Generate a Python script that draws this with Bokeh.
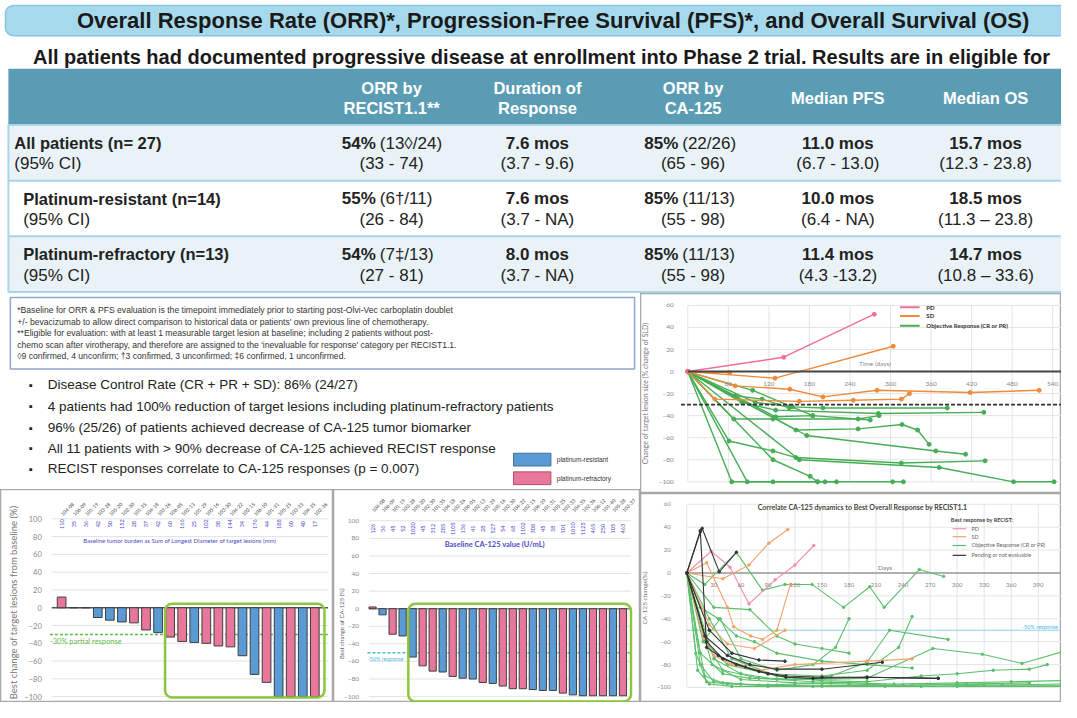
import math
from bokeh.plotting import figure
from bokeh.models import LinearAxis, FixedTicker, BoxAnnotation, Range1d
from bokeh.layouts import column, row
from bokeh.embed import file_html
from bokeh.resources import INLINE
from bokeh.core.properties import value

# ---------------- data ----------------
title_text = "Overall Response Rate (ORR)*, Progression-Free Survival (PFS)*, and Overall Survival (OS)"
subtitle_text = "All patients had documented progressive disease at enrollment into Phase 2 trial.  Results are in eligible for"
col_headers = [["ORR by", "RECIST1.1**"], ["Duration of", "Response"], ["ORR by", "CA-125"], ["Median PFS"], ["Median OS"]]
row_labels = ["All patients (n= 27)", "Platinum-resistant (n=14)", "Platinum-refractory (n=13)"]
ci_label = "(95% CI)"
orr_recist_pct = ["54%", "55%", "54%"]
orr_recist_n = ["(13\u25ca/24)", "(6\u2020/11)", "(7\u2021/13)"]
orr_recist_ci = ["(33 - 74)", "(26 - 84)", "(27 - 81)"]
dor = ["7.6 mos", "7.6 mos", "8.0 mos"]
dor_ci = ["(3.7 - 9.6)", "(3.7 - NA)", "(3.7 - NA)"]
orr_ca_pct = ["85%", "85%", "85%"]
orr_ca_n = ["(22/26)", "(11/13)", "(11/13)"]
orr_ca_ci = ["(65 - 96)", "(55 - 98)", "(55 - 98)"]
pfs = ["11.0 mos", "10.0 mos", "11.4 mos"]
pfs_ci = ["(6.7 - 13.0)", "(6.4 - NA)", "(4.3 -13.2)"]
os_med = ["15.7 mos", "18.5 mos", "14.7 mos"]
os_ci = ["(12.3 - 23.8)", "(11.3 \u2013 23.8)", "(10.8 \u2013 33.6)"]

footnotes = [
    "*Baseline for ORR & PFS evaluation is the timepoint immediately prior to starting post-Olvi-Vec carboplatin doublet",
    "  +/- bevacizumab to allow direct comparison to historical data or patients' own previous line of chemotherapy.",
    "**Eligible for evaluation: with at least 1 measurable target lesion at baseline; including 2 patients without post-",
    "  chemo scan after virotherapy, and therefore are assigned to the 'inevaluable for response' category per RECIST1.1.",
    "\u25ca9 confirmed, 4 unconfirm; \u20203 confirmed, 3 unconfirmed; \u20216 confirmed, 1 unconfirmed.",
]
bullets = [
    "Disease Control Rate (CR + PR + SD): 86% (24/27)",
    "4 patients had 100% reduction of target lesions including platinum-refractory patients",
    "96% (25/26) of patients achieved decrease of CA-125 tumor biomarker",
    "All 11 patients with > 90% decrease of CA-125 achieved RECIST response",
    "RECIST responses correlate to CA-125 responses (p = 0.007)",
]
group_names = ["platinum-resistant", "platinum-refractory"]

# waterfall 1: best change of target lesions (%)
wf1_ids = ["104-08", "106-09", "101-19", "103-28", "105-20", "102-30", "101-35", "104-18", "103-26", "106-05", "102-13",
           "101-29", "105-16", "103-30", "104-22", "102-15", "106-10", "101-31", "105-25", "103-33", "104-35", "102-36"]
wf1_baseline = ["110", "35", "36", "42", "50", "152", "28", "37", "42", "60", "166",
                "25", "102", "38", "144", "34", "176", "44", "188", "60", "40", "17"]
wf1_vals = [12, 0, 0, -11, -14, -16, -17, -25, -28, -33, -38, -39, -40, -43, -44, -54, -75, -84, -100, -100, -100, -100]
wf1_group = ["F", "R", "F", "R", "R", "R", "F", "F", "R", "F", "F", "R", "F", "F", "F", "R", "R", "F", "R", "F", "R", "F"]

# waterfall 2: best change of CA-125 (%)
wf2_ids = ["104-08", "106-09", "101-19", "103-28", "105-20", "102-30", "101-35", "104-18", "103-26", "106-05", "102-13",
           "101-29", "105-16", "103-30", "104-22", "102-15", "106-10", "101-31", "105-25", "103-33", "104-35", "102-36",
           "106-12", "101-40", "105-28", "103-37"]
wf2_baseline = ["126", "36", "45", "52", "1020", "45", "312", "285", "1105", "136", "41", "28", "527",
                "54", "68", "1102", "308", "45", "38", "101", "1010", "1125", "465", "250", "105", "463"]
wf2_vals = [2, -7, -29, -31, -55, -65, -71, -72, -77, -79, -80, -84, -85, -88, -91, -91, -92, -93, -93, -96, -98,
            -99, -99, -99, -99, -99]
wf2_group = ["F", "R", "F", "R", "R", "F", "F", "R", "F", "R", "R", "F", "R", "F", "F", "F", "R", "R", "R", "F", "R",
             "R", "F", "F", "R", "F"]

# spider 1: change of target lesion size (% change of SLD) vs time (days)
rec_pd_days = [[0, 142, 276]]
rec_pd_vals = [[0, 13, 52]]
rec_sd_days = [[0, 129, 304], [0, 62], [0, 70, 151, 200, 280, 418, 520], [0, 40, 165, 245, 316, 328]]
rec_sd_vals = [[0, -6, 23], [0, -1], [0, -13, -16, -23, -17, -19, -17], [0, -25, -27, -26, -25, -20]]
rec_or_days = [[0, 65, 126, 220], [0, 88, 192, 203, 303, 319], [0, 61, 126, 160, 316, 440],
               [0, 126, 181, 192], [0, 165, 372, 482, 542], [0, 176, 367, 411],
               [0, 160, 252, 317, 340, 357], [0, 68, 126, 252, 283], [0, 100, 155, 200, 384],
               [0, 80, 130, 282, 438], [0, 130, 185, 270], [0, 70, 110, 150], [0, 96, 185]]
rec_or_vals = [[0, -100, -100, -100], [0, -100, -100, -100, -100, -100], [0, -63, -72, -78, -83, -81],
               [0, -80, -95, -100], [0, -80, -87, -100, -100], [0, -58, -72, -75],
               [0, -53, -52, -48, -53, -66], [0, -43, -43, -43, -40], [0, -28, -32, -33, -33],
               [0, -28, -35, -38, -37], [0, -41, -40, -44], [0, -22, -25, -33], [0, -17, -40]]

# spider 2: CA-125 change (%) vs days
ca_pd_days = [[0, 27, 48, 69, 98, 120, 141]]
ca_pd_vals = [[0, 19, 5, -27, -6, 7, 24]]
ca_sd_days = [[0, 22, 45, 52, 71, 84, 100, 115], [0, 40, 69, 91, 112], [0, 18, 30, 50, 80, 120, 200, 250],
              [0, 25, 45, 75, 109]]
ca_sd_vals = [[0, 9, -30, -47, -55, -58, -50, -10], [0, -5, 7, 26, 38], [0, -55, -72, -80, -85, -80, -77, -75],
              [0, -45, -62, -66, -50]]
ca_or_days = [[0, 20, 55, 84, 109, 139, 174, 203, 219, 258, 285], [0, 20, 45, 90, 150, 200, 235, 250],
              [0, 15, 40, 70, 120, 160, 200, 225, 290], [0, 15, 30, 60, 100, 150, 200, 250, 300, 350, 416],
              [0, 20, 40, 80, 140, 200, 273, 328, 372, 416], [0, 25, 50, 100, 150, 200, 260, 300, 340, 380, 400],
              [0, 15, 35, 55, 75, 100, 150, 200, 250], [0, 30, 70, 100, 120, 150, 180],
              [0, 12, 25, 50, 90, 150, 220, 300, 416], [0, 10, 20, 40, 80, 120, 160, 200],
              [0, 18, 37, 60, 100, 140, 165, 180], [0, 30, 60, 100, 140, 180, 230, 300, 360, 416],
              [0, 10, 22, 45, 90, 140, 200, 260, 330, 416], [0, 14, 28, 60, 120, 180, 240, 310, 380]]
ca_or_vals = [[0, -10, 18, -15, -10, -10, -30, -12, -30, 3, -3], [0, -60, -80, -88, -90, -85, -65, -38],
              [0, -70, -88, -92, -93, -90, -78, -50, -58], [0, -80, -95, -97, -98, -98, -98, -98, -97, -98, -98],
              [0, -60, -85, -92, -93, -92, -66, -71, -79, -69], [0, -40, -75, -90, -94, -95, -90, -88, -85, -84, -80],
              [0, -30, -40, -55, -60, -70, -77, -80, -83], [0, -30, -32, -55, -62, -66, -70],
              [0, -85, -97, -99, -99, -99, -99, -99, -99], [0, -50, -90, -96, -98, -97, -96, -95],
              [0, -60, -40, -75, -85, -80, -65, -40], [0, -75, -88, -93, -95, -96, -97, -96, -95, -94],
              [0, -70, -95, -97, -98, -99, -98, -99, -98, -97], [0, -40, -80, -93, -96, -97, -98, -97, -96]]
ca_ne_days = [[0, 15, 17, 36, 55], [0, 15, 22, 35, 55, 80, 110, 150, 200, 279], [0, 22, 40, 65, 90, 110, 140, 200, 279],
              [0, 20, 45, 70, 100, 150, 217], [0, 25, 50, 80, 109]]
ca_ne_vals = [[0, 37, 39, 1, 18], [0, 36, -65, -72, -80, -86, -90, -91, -91, -92], [0, -60, -75, -82, -88, -91, -92, -91, -92],
              [0, -55, -72, -80, -84, -84, -78], [0, -50, -70, -76, -77]]

pct_ticks = [-100, -80, -60, -40, -20, 0, 20, 40, 60, 80, 100]
spider_pct_ticks = [-100, -80, -60, -40, -20, 0, 20, 40, 60]
rec_day_ticks = [60, 120, 180, 240, 300, 360, 420, 480, 540]
ca_day_ticks = [30, 60, 90, 120, 150, 180, 210, 240, 270, 300, 330, 360, 390]

# ---------------- style ----------------
FONT = "Liberation Sans"
CF = "Lato"
BLUE = "#5B9BD5"
PINK = "#E8779B"
GCOL = {"R": BLUE, "F": PINK}
LBLUE = "#4B4BC8"


def mkfig(w, h, xr, yr):
    p = figure(width=w, height=h, x_range=Range1d(*xr), y_range=Range1d(*yr), output_backend="svg",
               toolbar_location=None, tools="", x_axis_location=None, y_axis_location=None, min_border=0)
    p.grid.visible = False
    p.outline_line_color = None
    p.background_fill_color = "white"
    p.border_fill_color = "white"
    return p


def txt(p, x, y, s, size, color="#222", bold=False, align="left", baseline="middle", font=FONT, angle=0.0):
    p.text(x=[x], y=[y], text=[s], text_font=value(font), text_font_size=f"{size}px", text_color=color,
           text_font_style="bold" if bold else "normal", text_align=align, text_baseline=baseline, angle=angle)


def hseg(p, x0, x1, y, color, width=1.0, dash="solid"):
    p.segment(x0=[x0], x1=[x1], y0=[y], y1=[y], line_color=color, line_width=width, line_dash=dash)


# ---------------- top: title + table ----------------
top = mkfig(1061, 293, (0, 1077), (-300, 0))
top.add_layout(BoxAnnotation(left=5, right=1110, top=-5, bottom=-36, fill_color="#A6D9EC", fill_alpha=1,
                             line_color="#86C6DE", line_alpha=1, line_width=1.5, border_radius=8, level="underlay"))
txt(top, 561, -20.5, title_text, 22, color="#1a1a1a", bold=True, align="center")
txt(top, 33, -58, subtitle_text, 20, color="#1a1a1a", bold=True)
top.quad(left=[8], right=[1077], top=[-70], bottom=[-127], fill_color="#5B9CB5", line_color=None)
bands = [(-128, -184, "#E9F2F7"), (-185, -241, "#FFFFFF"), (-242, -298, "#E9F2F7")]
top.quad(left=[8] * 3, right=[1077] * 3, top=[b[0] for b in bands], bottom=[b[1] for b in bands],
         fill_color=[b[2] for b in bands], line_color=None)
for yy in (-127.5, -184.5, -241.5, -298.5):
    hseg(top, 8, 1077, yy, "#A9D5E6", 2)
top.segment(x0=[8], x1=[8], y0=[-127], y1=[-299], line_color="#A9D5E6", line_width=2)

col_c = [397, 545, 703, 850, 1000]
for c, hdr in zip(col_c, col_headers):
    if len(hdr) == 2:
        txt(top, c, -90, hdr[0], 16.5, color="white", bold=True, align="center")
        txt(top, c, -110.5, hdr[1], 16.5, color="white", bold=True, align="center")
    else:
        txt(top, c, -100, hdr[0], 16.5, color="white", bold=True, align="center")

row_y = [-146, -203, -260]
row_y2 = [-167, -224, -282]
label_x = [14, 23, 23]
FS = 17
for i in range(3):
    y1 = row_y[i]
    y2 = row_y2[i]
    txt(top, label_x[i], y1, row_labels[i], 16.5, bold=True)
    txt(top, label_x[i], y2, ci_label, FS)
    txt(top, 381, y1, orr_recist_pct[i], FS, bold=True, align="right")
    txt(top, 385, y1, orr_recist_n[i], FS)
    txt(top, col_c[0], y2, orr_recist_ci[i], FS, align="center")
    txt(top, col_c[1], y1, dor[i], FS, bold=True, align="center")
    txt(top, col_c[1], y2, dor_ci[i], FS, align="center")
    txt(top, 688, y1, orr_ca_pct[i], FS, bold=True, align="right")
    txt(top, 692, y1, orr_ca_n[i], FS)
    txt(top, col_c[2], y2, orr_ca_ci[i], FS, align="center")
    txt(top, col_c[3], y1, pfs[i], FS, bold=True, align="center")
    txt(top, col_c[3], y2, pfs_ci[i], FS, align="center")
    txt(top, col_c[4], y1, os_med[i], FS, bold=True, align="center")
    txt(top, col_c[4], y2, os_ci[i], FS, align="center")

# ---------------- middle-left: footnotes + bullets ----------------
mid = mkfig(640, 196, (0, 650), (-500, -300))
mid.quad(left=[10], right=[644], top=[-304], bottom=[-377], fill_color="white", line_color="#8FA8C8", line_width=1.5)
for k, line in enumerate(footnotes):
    txt(mid, 17, -317 - 11.75 * k, line, 8.6, color="#333")
bul_y = [-393, -415, -437, -458, -479]
for s, yy in zip(bullets, bul_y):
    txt(mid, 31, yy, "\u25aa", 11, color="#222", align="center")
    txt(mid, 48, yy, s, 13.5, color="#222")
mid.quad(left=[521, 521], right=[559, 559], top=[-463, -482], bottom=[-476, -495],
         fill_color=[BLUE, PINK], line_color=["#41719C", "#B0506E"], line_width=1)
txt(mid, 565, -469.5, group_names[0], 6.5, color="#333")
txt(mid, 565, -488.5, group_names[1], 6.5, color="#333")


# ---------------- waterfalls ----------------
def waterfall(width, xr, yr, ids, base, vals, groups, ax_x, grid_x1, id_y, base_y, caption, cap_x, cap_y,
              cap_size, cap_bold, thr, thr_col, thr_txt, thr_txt_y, thr_size, box, zero_col, tick_size):
    p = mkfig(width, 213, xr, yr)
    p.outline_line_color = "#A8A8A8"
    p.outline_line_width = 1.5
    idx = list(range(len(vals)))
    for t in pct_ticks:
        if t != 0:
            hseg(p, ax_x, grid_x1, t, "#E2E2E2", 1)
    hseg(p, ax_x, grid_x1, 0, zero_col, 1.5)
    hseg(p, ax_x - 0.15, grid_x1, thr, thr_col, 1.5, "3 2")
    txt(p, ax_x - 0.15, thr_txt_y, thr_txt, thr_size, color=thr_col, font=CF)
    p.vbar(x=idx, top=vals, bottom=0, width=0.72, fill_color=[GCOL[g] for g in groups],
           line_color="#3F3F3F", line_width=1)
    p.add_layout(BoxAnnotation(left=box[0], right=box[1], top=box[2], bottom=box[3], fill_alpha=0,
                               line_color="#8CC63F", line_alpha=1, line_width=2.5, border_radius=7))
    p.text(x=idx, y=[id_y] * len(idx), text=ids, angle=math.pi / 4, text_font=value(CF), text_font_size="5px",
           text_color="#444", text_align="left", text_baseline="middle")
    p.text(x=idx, y=[base_y] * len(idx), text=base, angle=math.pi / 2, text_font=value(CF),
           text_font_size="5.5px", text_color=LBLUE, text_align="center", text_baseline="middle")
    txt(p, cap_x, cap_y, caption, cap_size, color=LBLUE, bold=cap_bold, align="center", font=CF)
    ax = LinearAxis(fixed_location=ax_x, ticker=FixedTicker(ticks=pct_ticks), axis_line_color=None,
                    major_tick_line_color=None, minor_tick_line_color=None,
                    major_label_text_font=CF, major_label_text_font_size=f"{tick_size}px",
                    major_label_text_color="#888", major_label_standoff=4)
    p.add_layout(ax, "left")
    return p


wf1 = waterfall(333, (-5.07, 22.55), (-106.6, 133), wf1_ids, wf1_baseline, wf1_vals, wf1_group,
                -0.82, 22.1, 104.5, 94, "Baseline tumor burden as Sum of Longest Diameter of target lesions (mm)",
                9.8, 76, 6, False, -30, "#5DBB46", "-30% partial response", -38.5, 7.5, (8.58, 21.8, 4.4, -101),
                "#555", 7.5)
txt(wf1, -4.0, 6, "Best change of target lesions from baseline (%)", 9.5, color="#777", align="center", font=CF,
    angle=math.pi / 2)
wf2 = waterfall(307, (-3.9, 26.75), (-106.7, 135.6), wf2_ids, wf2_baseline, wf2_vals, wf2_group,
                -0.36, 25.8, 111, 91, "Baseline CA-125 value (U/mL)", 12.2, 73.3, 7.5, True,
                -50, "#4FB8DF", "-50% response", -56.7, 5.5, (3.57, 25.8, 5.6, -105.6), "#888", 6.5)
txt(wf2, -3.1, -17, "Best change of CA-125 (%)", 6, color="#666", align="center", font=CF, angle=math.pi / 2)


# ---------------- spider plots ----------------
def spider_series(p, days, vals, color, lw, msize):
    p.multi_line(xs=days, ys=vals, line_color=color, line_width=lw)
    p.scatter([d for s in days for d in s], [v for s in vals for v in s], size=msize, color=color)


def spider_axes(p, xticks, ylabel, ylab_size, tick_size, standoff):
    ay = LinearAxis(fixed_location=0, ticker=FixedTicker(ticks=spider_pct_ticks), axis_line_color=None,
                    major_tick_line_color=None, minor_tick_line_color=None,
                    major_label_text_font=CF, major_label_text_font_size=f"{tick_size}px",
                    major_label_text_color="#888", major_label_standoff=standoff,
                    axis_label=ylabel, axis_label_text_font=CF, axis_label_text_font_size=f"{ylab_size}px",
                    axis_label_text_font_style="normal", axis_label_text_color="#777", axis_label_standoff=6)
    p.add_layout(ay, "left")
    ax = LinearAxis(fixed_location=0, ticker=FixedTicker(ticks=xticks), axis_line_color=None,
                    major_tick_line_color=None, minor_tick_line_color=None,
                    major_label_text_font=CF, major_label_text_font_size=f"{tick_size}px",
                    major_label_text_color="#888", major_label_standoff=4)
    p.add_layout(ax, "below")


# spider 1
sp1 = mkfig(421, 200, (-70, 553), (-110.6, 70.8))
sp1.outline_line_color = "#A8A8A8"
sp1.outline_line_width = 1.5
sp1.segment(x0=[0] + rec_day_ticks, x1=[0] + rec_day_ticks, y0=-100, y1=60, line_color="#E4E4E4", line_width=1)
sp1.segment(x0=0, x1=560, y0=spider_pct_ticks, y1=spider_pct_ticks, line_color="#E4E4E4", line_width=1)
spider_series(sp1, rec_or_days, rec_or_vals, "#46AD55", 1.4, 4)
spider_series(sp1, rec_sd_days, rec_sd_vals, "#EE8A3A", 1.4, 4)
spider_series(sp1, rec_pd_days, rec_pd_vals, "#EE6F9C", 1.4, 4)
hseg(sp1, 0, 560, 0, "#444", 2)
hseg(sp1, -10, 560, -30, "#333", 1.6, "4 2")
spider_axes(sp1, rec_day_ticks, "Change of target lesion size (% change of SLD)", 7, 6.5, 8)
txt(sp1, 277, 7, "Time (days)", 6.5, color="#888", align="center", font=CF)
for yy, col, lab in [(58.4, "#EE6F9C", "PD"), (50.4, "#EE8A3A", "SD"), (41.6, "#46AD55", "Objective Response (CR or PR)")]:
    hseg(sp1, 314, 343, yy, col, 2)
    txt(sp1, 353, yy, lab, 6, color="#333", bold=True, font=CF)

# spider 2
sp2 = mkfig(421, 209, (-51.4, 415.8), (-113.1, 69.4))
sp2.outline_line_color = "#A8A8A8"
sp2.outline_line_width = 1.5
sp2.segment(x0=[0] + ca_day_ticks + [420], x1=[0] + ca_day_ticks + [420], y0=-100, y1=60, line_color="#E4E4E4",
            line_width=1)
sp2.segment(x0=0, x1=420, y0=spider_pct_ticks, y1=spider_pct_ticks, line_color="#E4E4E4", line_width=1)
hseg(sp2, 0, 420, 0, "#9A9A9A", 1.6)
hseg(sp2, 0, 420, -50, "#8FD0EA", 1.2)
spider_series(sp2, ca_or_days, ca_or_vals, "#5CBF6C", 1.1, 2.5)
spider_series(sp2, ca_sd_days, ca_sd_vals, "#F4A36A", 1.1, 2.5)
spider_series(sp2, ca_pd_days, ca_pd_vals, "#F28DB2", 1.1, 2.5)
spider_series(sp2, ca_ne_days, ca_ne_vals, "#333333", 1.1, 2.5)
spider_axes(sp2, ca_day_ticks, "CA-125 change(%)", 6.5, 6, 10)
txt(sp2, 195, 57.4, "Correlate CA-125 dynamics to Best Overall Response by RECIST1.1", 7, color="#444", bold=True,
    align="center", font=CF)
txt(sp2, 220, 4.5, "Days", 6.5, color="#777", align="center", font=CF)
txt(sp2, 372, -47, "-50% response", 5.5, color="#4FB8DF", font=CF)
txt(sp2, 293, 46.3, "Best response by RECIST:", 5.5, color="#444", bold=True, font=CF)
for yy, col, lab in [(38.6, "#F28DB2", "PD"), (31.7, "#F4A36A", "SD"), (24.0, "#5CBF6C", "Objective Response (CR or PR)"),
                     (15.4, "#333333", "Pending or not evaluable")]:
    hseg(sp2, 295, 310, yy, col, 1.2)
    txt(sp2, 316, yy, lab, 5.5, color="#666", font=CF)

layout = column(top, row(column(mid, row(wf1, wf2)), column(sp1, sp2)))
open("out.html", "w").write(file_html(layout, INLINE))
